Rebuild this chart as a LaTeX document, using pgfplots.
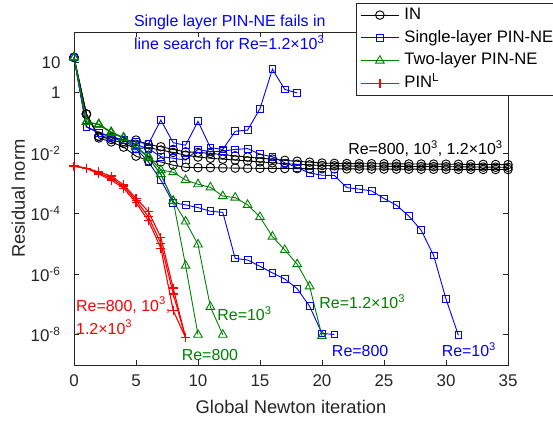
\documentclass[border=0pt]{standalone}
\usepackage{fontspec}
\setmainfont{Liberation Sans}
\usepackage{pgfplots}
\pgfplotsset{compat=1.18}

\definecolor{mblue}{rgb}{0,0,1}
\definecolor{mgreen}{rgb}{0,0.5,0}
\definecolor{mred}{rgb}{1,0,0}
\definecolor{axgray}{rgb}{0.15,0.15,0.15}

\newcommand{\annfont}{\fontsize{16}{19}\selectfont}

\begin{document}
\begin{tikzpicture}
\begin{axis}[
  at={(74bp,56bp)}, anchor=south west,
  scale only axis, width=434bp, height=333bp,
  xmin=0, xmax=35,
  ymode=log, ymin=1e-9, ymax=1e2,
  xtick={0,5,...,35},
  ytick={1e-8,1e-6,1e-4,1e-2,1,10},
  yticklabels={10\textsuperscript{-8},10\textsuperscript{-6},10\textsuperscript{-4},10\textsuperscript{-2},1,10},
  minor ytick={}, minor xtick={},
  tick align=inside,
  major tick length=5bp,
  axis line style={axgray, line width=0.6bp},
  tick style={axgray, line width=0.6bp},
  ticklabel style={font=\fontsize{17}{20}\selectfont, text=axgray},
  /pgf/number format/assume math mode=true,
  xticklabel style={yshift=-6bp},
  yticklabel style={xshift=-10bp},
  xlabel={Global Newton iteration},
  ylabel={Residual norm},
  label style={font=\fontsize{18.4}{22}\selectfont, text=axgray},
  xlabel style={at={(axis description cs:0.5,-0.147)}, anchor=base},
  ylabel style={at={(axis description cs:-0.113,0.5)}, anchor=base},
  clip=false,
  every axis plot/.append style={line width=0.9bp, mark options={solid, line width=0.9bp, fill=none}},
  legend style={at={(0.6498,1.087)}, anchor=north west, draw=axgray, line width=0.6bp,
    font=\fontsize{16.7}{20}\selectfont, inner sep=4bp, row sep=7.3bp, column sep=5bp,
    nodes={inner sep=0pt, text height=12bp, text depth=3.5bp}, cells={anchor=west}},
  legend image code/.code={%
    \draw[#1] (0bp,0bp) -- (38bp,0bp);
    \draw[#1, only marks] plot coordinates {(19bp,0bp)};},
]

% ---------------- IN (black circles) ----------------
\addplot[black, mark=o, mark size=4.3bp] coordinates {
(0,14.5) (1,1.95e-1) (2,3.16e-2) (3,2.34e-2) (4,1.58e-2) (5,7.94e-3) (6,5.62e-3)
(7,5.13e-3) (8,3.98e-3) (9,3.39e-3) (10,3.31e-3) (11,3.31e-3) (12,3.24e-3) (13,3.20e-3)
(14,3.16e-3) (15,3.14e-3) (16,3.12e-3) (17,3.10e-3) (18,3.08e-3) (19,3.06e-3) (20,3.04e-3)
(21,3.02e-3) (22,3.00e-3) (23,2.99e-3) (24,2.98e-3) (25,2.97e-3) (26,2.96e-3) (27,2.95e-3)
(28,2.94e-3) (29,2.93e-3) (30,2.92e-3) (31,2.91e-3) (32,2.90e-3) (33,2.89e-3) (34,2.88e-3)
(35,2.87e-3)};
\addlegendentry{IN}
\addplot[black, mark=o, mark size=4.3bp, forget plot] coordinates {
(0,14.5) (1,1.95e-1) (2,3.63e-2) (3,2.82e-2) (4,2.09e-2) (5,1.41e-2) (6,1.51e-2)
(7,1.26e-2) (8,1.05e-2) (9,8.51e-3) (10,7.41e-3) (11,6.76e-3) (12,6.31e-3) (13,5.89e-3)
(14,5.50e-3) (15,5.13e-3) (16,4.79e-3) (17,4.47e-3) (18,4.27e-3) (19,4.07e-3) (20,3.89e-3)
(21,3.80e-3) (22,3.74e-3) (23,3.72e-3) (24,3.70e-3) (25,3.67e-3) (26,3.64e-3) (27,3.62e-3)
(28,3.59e-3) (29,3.57e-3) (30,3.54e-3) (31,3.52e-3) (32,3.49e-3) (33,3.46e-3) (34,3.42e-3)
(35,3.39e-3)};
\addplot[black, mark=o, mark size=4.3bp, forget plot] coordinates {
(0,14.5) (1,1.95e-1) (2,3.55e-2) (3,3.31e-2) (4,2.40e-2) (5,2.69e-2) (6,1.91e-2)
(7,1.62e-2) (8,1.32e-2) (9,1.10e-2) (10,1.05e-2) (11,9.77e-3) (12,8.91e-3) (13,8.13e-3)
(14,7.41e-3) (15,6.76e-3) (16,6.31e-3) (17,5.75e-3) (18,5.37e-3) (19,5.01e-3) (20,4.68e-3)
(21,4.57e-3) (22,4.52e-3) (23,4.47e-3) (24,4.45e-3) (25,4.42e-3) (26,4.40e-3) (27,4.37e-3)
(28,4.35e-3) (29,4.32e-3) (30,4.30e-3) (31,4.27e-3) (32,4.25e-3) (33,4.22e-3) (34,4.19e-3)
(35,4.17e-3)};

% ---------------- Single-layer PIN-NE (blue squares) ----------------
% Re = 1.2e3: line search fails
\addplot[mblue, mark=square, mark size=3.4bp] coordinates {
(0,14.5) (1,7.41e-2) (2,4.68e-2) (3,3.47e-2) (4,2.69e-2) (5,2.34e-2) (6,2.00e-2)
(7,1.23e-1) (8,2.19e-2) (9,1.82e-2) (10,1.12e-1) (11,1.51e-2) (12,1.32e-2) (13,5.25e-2)
(14,5.75e-2) (15,2.95e-1) (16,5.89) (17,1.26) (18,0.977)};
\addlegendentry{Single-layer PIN-NE}
% Re = 1e3
\addplot[mblue, mark=square, mark size=3.4bp, forget plot] coordinates {
(0,14.5) (1,7.41e-2) (2,4.68e-2) (3,3.47e-2) (4,2.69e-2) (5,1.91e-2) (6,1.41e-2)
(7,7.59e-3) (8,6.76e-3) (9,5.89e-3) (10,1.32e-2) (11,1.10e-2) (12,1.17e-2) (13,1.32e-2)
(14,1.41e-2) (15,9.12e-3) (16,7.59e-3) (17,4.79e-3) (18,3.31e-3) (19,2.19e-3) (20,1.86e-3)
(21,1.82e-3) (22,7.24e-4) (23,6.46e-4) (24,5.62e-4) (25,3.16e-4) (26,1.91e-4) (27,8.32e-5)
(28,2.82e-5) (29,4.17e-6) (30,1.51e-7) (31,9.55e-9)};
% Re = 800
\addplot[mblue, mark=square, mark size=3.4bp, forget plot] coordinates {
(0,14.5) (1,7.41e-2) (2,4.68e-2) (3,3.47e-2) (4,2.69e-2) (5,1.41e-2) (6,5.13e-3)
(7,1.29e-3) (8,2.29e-4) (9,1.95e-4) (10,1.58e-4) (11,1.20e-4) (12,1.10e-4) (13,3.31e-6)
(14,2.95e-6) (15,1.82e-6) (16,1.10e-6) (17,6.92e-7) (18,3.31e-7) (19,8.71e-8) (20,1.10e-8)
(21,1.02e-8)};

% ---------------- Two-layer PIN-NE (green triangles) ----------------
% Re = 1.2e3
\addplot[mgreen, mark=triangle, mark size=5bp] coordinates {
(0,14.5) (1,1.07e-1) (2,9.12e-2) (3,5.01e-2) (4,3.31e-2) (5,1.62e-2) (6,7.94e-3)
(7,2.75e-3) (8,2.34e-3) (9,1.29e-3) (10,9.33e-4) (11,7.41e-4) (12,3.80e-4) (13,3.39e-4)
(14,1.95e-4) (15,7.76e-5) (16,1.74e-5) (17,6.31e-6) (18,2.14e-6) (19,3.98e-7) (20,9.12e-9)};
\addlegendentry{Two-layer PIN-NE}
% Re = 1e3
\addplot[mgreen, mark=triangle, mark size=5bp, forget plot] coordinates {
(0,14.5) (1,1.07e-1) (2,8.71e-2) (3,4.68e-2) (4,3.16e-2) (5,1.58e-2) (6,7.08e-3)
(7,2.00e-3) (8,2.63e-4) (9,5.50e-5) (10,9.55e-6) (11,8.32e-8) (12,1.00e-8)};
% Re = 800
\addplot[mgreen, mark=triangle, mark size=5bp, forget plot] coordinates {
(0,14.5) (1,1.07e-1) (2,8.71e-2) (3,4.68e-2) (4,3.16e-2) (5,1.58e-2) (6,7.08e-3)
(7,2.00e-3) (8,2.63e-4) (9,1.91e-6) (10,1.00e-8)};

% ---------------- PIN^L (red plus) ----------------
\addplot[mred, line width=1.1bp, mark=+, mark size=4.5bp, mark options={line width=1.3bp}] coordinates {
(0,3.72e-3) (1,3.16e-3) (2,2.40e-3) (3,1.74e-3) (4,8.91e-4) (5,3.24e-4) (6,1.17e-4)
(7,1.66e-5) (8,3.47e-7) (9,7.94e-9)};
\addlegendentry{PIN\textsuperscript{L}}
\addplot[mred, line width=1.1bp, mark=+, mark size=4.5bp, mark options={line width=1.3bp}, forget plot] coordinates {
(0,3.72e-3) (1,3.16e-3) (2,2.19e-3) (3,1.48e-3) (4,7.94e-4) (5,2.75e-4) (6,7.94e-5)
(7,1.05e-5) (8,2.24e-7) (9,7.94e-9)};
\addplot[mred, line width=1.1bp, mark=+, mark size=4.5bp, mark options={line width=1.3bp}, forget plot] coordinates {
(0,3.72e-3) (1,3.16e-3) (2,2.04e-3) (3,1.29e-3) (4,6.92e-4) (5,2.29e-4) (6,5.89e-5)
(7,7.24e-6) (8,6.31e-8) (9,7.94e-9)};

% ---------------- annotations ----------------
\node[anchor=base west, inner sep=0pt, text=mblue, font=\annfont] at (rel axis cs:0.138,1.016) {Single layer PIN-NE fails in};
\node[anchor=base west, inner sep=0pt, text=mblue, font=\annfont] at (rel axis cs:0.138,0.946) {line search for Re=1.2×10\textsuperscript{3}};
\node[anchor=base east, inner sep=0pt, text=black, font=\annfont] at (rel axis cs:0.988,0.631) {Re=800, 10\textsuperscript{3}, 1.2×10\textsuperscript{3}};
\node[anchor=base west, inner sep=0pt, text=mred, font=\annfont] at (rel axis cs:0.0046,0.162) {Re=800, 10\textsuperscript{3},};
\node[anchor=base west, inner sep=0pt, text=mred, font=\annfont] at (rel axis cs:0.0046,0.093) {1.2×10\textsuperscript{3}};
\node[anchor=base west, inner sep=0pt, text=mgreen, font=\annfont] at (rel axis cs:0.330,0.133) {Re=10\textsuperscript{3}};
\node[anchor=base west, inner sep=0pt, text=mgreen, font=\annfont] at (rel axis cs:0.248,0.015) {Re=800};
\node[anchor=base west, inner sep=0pt, text=mgreen, font=\annfont] at (rel axis cs:0.565,0.170) {Re=1.2×10\textsuperscript{3}};
\node[anchor=base west, inner sep=0pt, text=mblue, font=\annfont] at (rel axis cs:0.594,0.025) {Re=800};
\node[anchor=base west, inner sep=0pt, text=mblue, font=\annfont] at (rel axis cs:0.847,0.025) {Re=10\textsuperscript{3}};
\end{axis}
\pgfresetboundingbox
\useasboundingbox (0,0) rectangle (553bp,421bp);
\end{tikzpicture}
\end{document}
